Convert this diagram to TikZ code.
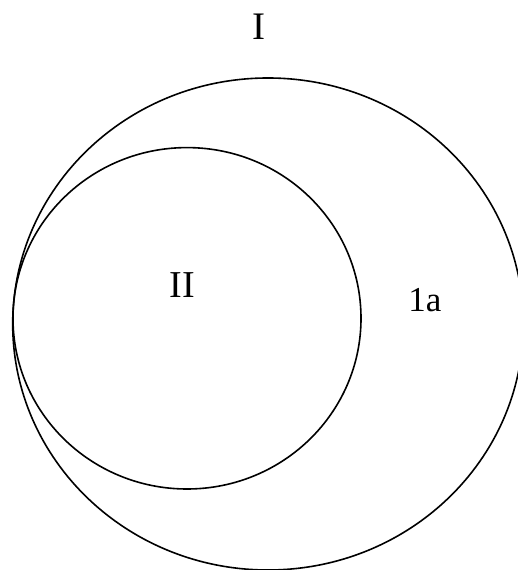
\documentclass[tikz,border=0pt]{standalone}
\usepackage{fontspec}
\setmainfont{Liberation Serif}
\begin{document}
\begin{tikzpicture}[x=1pt,y=1pt,
  ring/.style={line width=1.6pt},
  lbl/.style={inner sep=0pt,anchor=base}]
\clip (0,0) rectangle (518,570);
\draw[ring] (268,246) ellipse [x radius=255.3, y radius=246];
\draw[ring] (187,251.7) ellipse [x radius=174, y radius=170.7];
\node[lbl,font=\fontsize{39}{44}\selectfont] (lI) at (259,530.7) {I};
\node[lbl,font=\fontsize{38}{44}\selectfont] (lII) at (182.5,272.3) {II};
\node[lbl,font=\fontsize{35}{40}\selectfont] (l1a) at (424.8,258.3) {1a};
\end{tikzpicture}
\end{document}
